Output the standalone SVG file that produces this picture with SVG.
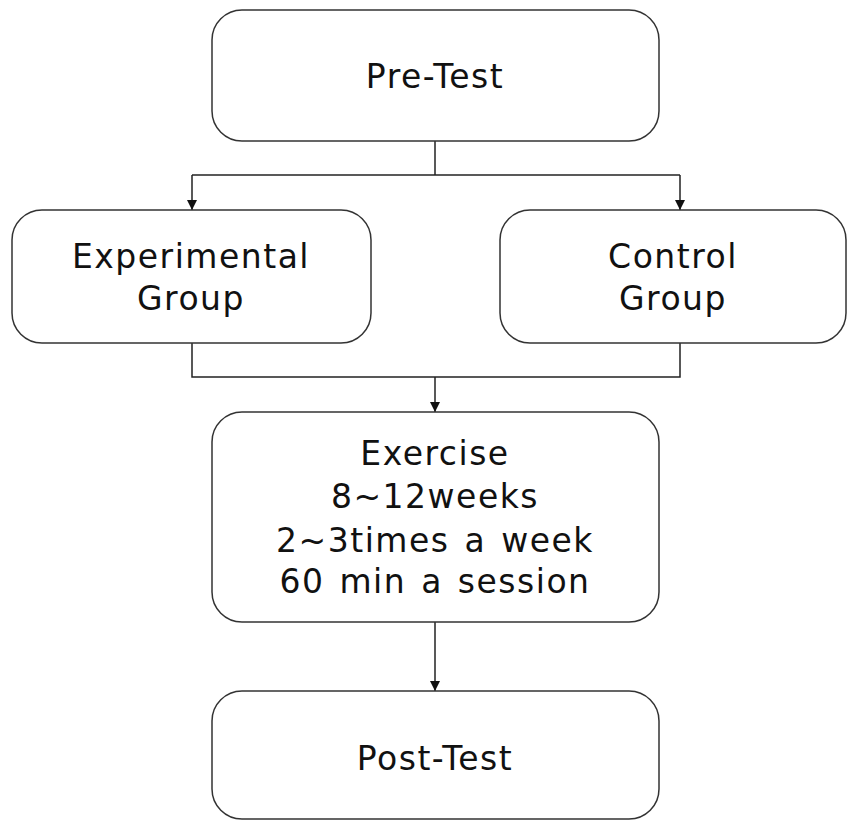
<svg xmlns="http://www.w3.org/2000/svg" width="848" height="821" viewBox="0 0 848 821">
<style>
.box{fill:#fff;stroke:#333;stroke-width:1.5}
.t{font-family:"DejaVu Sans","Liberation Sans",sans-serif;font-size:33px;fill:#111;text-anchor:middle;letter-spacing:1.5px;word-spacing:3px}
.c{fill:none;stroke:#222;stroke-width:1.5}
</style>
<defs>
<marker id="ah" markerWidth="10" markerHeight="10" refX="10" refY="5" orient="auto" markerUnits="userSpaceOnUse">
<path d="M0,0 L10,5 L0,10 Z" fill="#111"/>
</marker>
</defs>
<rect width="848" height="821" fill="#fff"/>
<g id="connectors">
<path class="c" d="M435,141 V175"/>
<path class="c" d="M192,175 H680"/>
<path class="c" d="M192,175 V210" marker-end="url(#ah)"/>
<path class="c" d="M680,175 V210" marker-end="url(#ah)"/>
<path class="c" d="M192,343 V377 H680 V343"/>
<path class="c" d="M435,377 V412" marker-end="url(#ah)"/>
<path class="c" d="M435,622 V691" marker-end="url(#ah)"/>
</g>
<g id="pretest">
<rect class="box" x="212" y="10" width="447" height="131" rx="30"/>
<text class="t" x="435" y="88">Pre-Test</text>
</g>
<g id="experimental">
<rect class="box" x="12" y="210" width="359" height="133" rx="30"/>
<text class="t" x="191" y="268">Experimental</text>
<text class="t" x="191" y="310">Group</text>
</g>
<g id="control">
<rect class="box" x="500" y="210" width="346" height="133" rx="30"/>
<text class="t" x="673" y="268">Control</text>
<text class="t" x="673" y="310">Group</text>
</g>
<g id="exercise">
<rect class="box" x="212" y="412" width="447" height="210" rx="30"/>
<text class="t" x="435" y="465">Exercise</text>
<text class="t" x="435" y="508">8~12weeks</text>
<text class="t" x="435" y="552">2~3times a week</text>
<text class="t" x="435" y="593">60 min a session</text>
</g>
<g id="posttest">
<rect class="box" x="212" y="691" width="447" height="128" rx="30"/>
<text class="t" x="435" y="770">Post-Test</text>
</g>
</svg>
